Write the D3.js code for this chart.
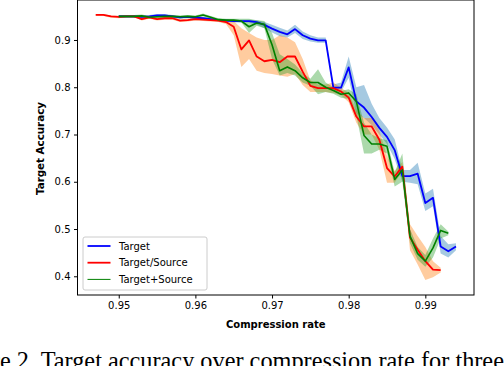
<!DOCTYPE html>
<html>
<head>
<meta charset="utf-8">
<script src="https://cdn.jsdelivr.net/npm/d3@7"></script>
<style>
  body { margin: 0; background: #fff; }
  svg { display: block; }
</style>
</head>
<body>
<div id="chart"></div>
<script>
// compression rates (x grid)
var rates = [0.947, 0.948, 0.949, 0.950, 0.951, 0.952, 0.953, 0.954, 0.955, 0.956,
             0.957, 0.958, 0.959, 0.960, 0.961, 0.962, 0.963, 0.964, 0.965, 0.966,
             0.967, 0.968, 0.969, 0.970, 0.971, 0.972, 0.973, 0.974, 0.975, 0.976,
             0.977, 0.978, 0.979, 0.980, 0.981, 0.982, 0.983, 0.984, 0.985, 0.986,
             0.987, 0.988, 0.989, 0.990, 0.991, 0.992, 0.993, 0.994];

// Target (blue)
var targetMean = [null, null, null, 0.950, 0.950, 0.950, 0.949, 0.950, 0.952, 0.952,
                  0.950, 0.948, 0.949, 0.947, 0.946, 0.944, 0.942, 0.941, 0.940, 0.940,
                  0.940, 0.938, 0.932, 0.924, 0.917, 0.912, 0.923, 0.910, 0.903, 0.899,
                  0.899, 0.799, 0.799, 0.842, 0.770, 0.757, 0.737, 0.714, 0.695, 0.667,
                  0.612, 0.612, 0.617, 0.555, 0.566, 0.463, 0.453, 0.463];
var targetLo =   [null, null, null, 0.947, 0.947, 0.947, 0.946, 0.947, 0.949, 0.949,
                  0.947, 0.945, 0.946, 0.944, 0.943, 0.941, 0.939, 0.938, 0.937, 0.937,
                  0.937, 0.932, 0.925, 0.916, 0.908, 0.905, 0.915, 0.902, 0.897, 0.894,
                  0.894, 0.792, 0.790, 0.820, 0.745, 0.735, 0.720, 0.700, 0.680, 0.648,
                  0.600, 0.598, 0.595, 0.538, 0.548, 0.448, 0.440, 0.455];
var targetHi =   [null, null, null, 0.953, 0.953, 0.953, 0.952, 0.953, 0.955, 0.955,
                  0.953, 0.951, 0.952, 0.950, 0.949, 0.947, 0.945, 0.944, 0.943, 0.943,
                  0.943, 0.942, 0.938, 0.932, 0.926, 0.920, 0.932, 0.918, 0.910, 0.905,
                  0.905, 0.806, 0.810, 0.865, 0.800, 0.805, 0.765, 0.735, 0.715, 0.690,
                  0.625, 0.625, 0.640, 0.575, 0.585, 0.485, 0.468, 0.470];

// Target/Source (red)
var divMean = [0.953, 0.953, 0.950, 0.949, 0.950, 0.950, 0.944, 0.948, 0.944, 0.946,
               0.946, 0.941, 0.942, 0.944, 0.943, 0.942, 0.941, 0.938, 0.928, 0.880,
               0.899, 0.865, 0.855, 0.858, 0.853, 0.865, 0.865, 0.833, 0.803, 0.798,
               0.798, 0.798, 0.791, 0.778, 0.738, 0.717, 0.717, 0.689, 0.629, 0.611,
               0.632, 0.482, 0.456, 0.432, 0.414, 0.413, null, null];
var divLo =   [0.951, 0.951, 0.947, 0.946, 0.948, 0.948, 0.941, 0.945, 0.941, 0.943,
               0.943, 0.938, 0.939, 0.941, 0.940, 0.939, 0.938, 0.934, 0.910, 0.843,
               0.860, 0.835, 0.830, 0.828, 0.825, 0.822, 0.828, 0.805, 0.790, 0.790,
               0.790, 0.788, 0.783, 0.768, 0.725, 0.700, 0.700, 0.668, 0.598, 0.598,
               0.622, 0.455, 0.425, 0.392, 0.398, 0.408, null, null];
var divHi =   [0.955, 0.955, 0.952, 0.951, 0.952, 0.952, 0.947, 0.951, 0.947, 0.949,
               0.949, 0.944, 0.945, 0.947, 0.946, 0.945, 0.944, 0.942, 0.940, 0.925,
               0.915, 0.905, 0.900, 0.900, 0.910, 0.905, 0.895, 0.860, 0.815, 0.806,
               0.806, 0.810, 0.799, 0.788, 0.752, 0.735, 0.735, 0.708, 0.655, 0.622,
               0.642, 0.510, 0.485, 0.462, 0.432, 0.418, null, null];

// Target+Source (green)
var sumMean = [null, null, null, 0.950, 0.950, 0.950, 0.951, 0.948, 0.949, 0.950,
               0.950, 0.949, 0.950, 0.949, 0.953, 0.948, 0.943, 0.942, 0.942, 0.940,
               0.928, 0.936, 0.933, 0.890, 0.835, 0.843, 0.835, 0.820, 0.810, 0.810,
               0.800, 0.793, 0.785, 0.788, 0.770, 0.698, 0.680, 0.680, 0.675, 0.605,
               0.625, 0.485, 0.448, 0.432, 0.460, 0.497, 0.491, null];
var sumLo =   [null, null, null, 0.947, 0.947, 0.947, 0.948, 0.945, 0.946, 0.947,
               0.947, 0.946, 0.947, 0.946, 0.950, 0.945, 0.940, 0.939, 0.939, 0.937,
               0.915, 0.930, 0.925, 0.860, 0.825, 0.830, 0.825, 0.810, 0.803, 0.785,
               0.790, 0.786, 0.778, 0.775, 0.740, 0.660, 0.660, 0.668, 0.660, 0.590,
               0.600, 0.470, 0.435, 0.420, 0.440, 0.480, 0.487, null];
var sumHi =   [null, null, null, 0.953, 0.953, 0.953, 0.954, 0.951, 0.952, 0.953,
               0.953, 0.952, 0.953, 0.952, 0.956, 0.951, 0.946, 0.945, 0.945, 0.945,
               0.945, 0.942, 0.940, 0.915, 0.870, 0.860, 0.848, 0.830, 0.818, 0.838,
               0.810, 0.800, 0.792, 0.796, 0.785, 0.725, 0.700, 0.692, 0.688, 0.620,
               0.660, 0.500, 0.462, 0.445, 0.480, 0.510, 0.495, null];

var xTicks = [0.95, 0.96, 0.97, 0.98, 0.99];
var yTicks = [0.4, 0.5, 0.6, 0.7, 0.8, 0.9];

var seriesNames = ["Target", "Target/Source", "Target+Source"];

var svgWidth = 504;
var svgHeight = 366;

var plot = { left: 77.5, right: 474, top: 0, bottom: 295 };

var svg = d3.select("#chart")
  .append("svg")
  .attr("width", svgWidth)
  .attr("height", svgHeight);

var x = d3.scaleLinear()
  .domain([0.94462, 0.99635])
  .range([plot.left, plot.right]);

var y = d3.scaleLinear()
  .domain([0.3604, 0.9846])
  .range([plot.bottom, plot.top]);

var series = [
  { name: seriesNames[0], mean: targetMean, lo: targetLo, hi: targetHi, line: "#0000ff", fill: "#1f77b4", width: 1.8 },
  { name: seriesNames[1], mean: divMean, lo: divLo, hi: divHi, line: "#ff0000", fill: "#ff7f0e", width: 1.8 },
  { name: seriesNames[2], mean: sumMean, lo: sumLo, hi: sumHi, line: "#008000", fill: "#2ca02c", width: 1.6 }
];

var font = "DejaVu Sans, sans-serif";

// bands first
series.forEach(function(s) {
  var area = d3.area()
    .defined(function(d, i) { return s.lo[i] != null; })
    .x(function(d, i) { return x(rates[i]); })
    .y0(function(d, i) { return y(s.lo[i]); })
    .y1(function(d, i) { return y(s.hi[i]); });

  svg.append("path")
    .attr("d", area(rates))
    .attr("fill", s.fill)
    .attr("fill-opacity", 0.4)
    .attr("stroke", "none");
});

// mean lines
series.forEach(function(s) {
  var line = d3.line()
    .defined(function(d, i) { return s.mean[i] != null; })
    .x(function(d, i) { return x(rates[i]); })
    .y(function(d, i) { return y(s.mean[i]); });

  svg.append("path")
    .attr("d", line(rates))
    .attr("fill", "none")
    .attr("stroke", s.line)
    .attr("stroke-width", s.width)
    .attr("stroke-linejoin", "round");
});

// frame
svg.append("rect")
  .attr("x", plot.left)
  .attr("y", plot.top)
  .attr("width", plot.right - plot.left)
  .attr("height", plot.bottom - plot.top)
  .attr("fill", "none")
  .attr("stroke", "#000")
  .attr("stroke-width", 1);

// axes
var xAxis = svg.append("g")
  .attr("transform", `translate(0, ${plot.bottom})`)
  .call(d3.axisBottom(x).tickValues(xTicks).tickSize(3.5).tickPadding(3.5).tickFormat(d3.format(".2f")));

var yAxis = svg.append("g")
  .attr("transform", `translate(${plot.left}, 0)`)
  .call(d3.axisLeft(y).tickValues(yTicks).tickSize(3.5).tickPadding(3.5).tickFormat(d3.format(".1f")));

[xAxis, yAxis].forEach(function(a) {
  a.select(".domain").remove();
  a.selectAll("text").attr("font-family", font).attr("font-size", 10).attr("fill", "#000");
  a.selectAll("line").attr("stroke", "#000");
});

// axis labels
svg.append("text")
  .attr("x", (plot.left + plot.right) / 2)
  .attr("y", 328)
  .attr("text-anchor", "middle")
  .attr("font-family", font)
  .attr("font-size", 10)
  .attr("font-weight", "bold")
  .text("Compression rate");

svg.append("text")
  .attr("transform", `translate(43.5, ${(plot.top + plot.bottom) / 2 + 1}) rotate(-90)`)
  .attr("text-anchor", "middle")
  .attr("font-family", font)
  .attr("font-size", 10.3)
  .attr("font-weight", "bold")
  .text("Target Accuracy");

// legend
var legend = svg.append("g").attr("transform", "translate(83, 237)");

legend.append("rect")
  .attr("width", 124)
  .attr("height", 53)
  .attr("rx", 2)
  .attr("fill", "#fff")
  .attr("fill-opacity", 0.8)
  .attr("stroke", "#cccccc");

series.forEach(function(s, i) {
  var ly = 9 + i * 16.7;
  legend.append("line")
    .attr("x1", 4.5).attr("x2", 27.5)
    .attr("y1", ly).attr("y2", ly)
    .attr("stroke", s.line)
    .attr("stroke-width", i == 2 ? 1 : 1.8);
  legend.append("text")
    .attr("x", 36)
    .attr("y", ly)
    .attr("dy", "0.35em")
    .attr("font-family", font)
    .attr("font-size", 10)
    .text(s.name);
});

// caption, cut at the page edges like the source scan
var capFont = "Liberation Serif, Times New Roman, serif";
var capSize = 24.3;
var caption = svg.append("text")
  .attr("y", 369)
  .attr("font-family", capFont)
  .attr("font-size", capSize)
  .attr("fill", "#000")
  .text("Figure 2. Target accuracy over compression rate for three");

var cut = svg.append("text")
  .attr("font-family", capFont)
  .attr("font-size", capSize)
  .text("Figure 2. ");
var cutWidth = cut.node().getComputedTextLength();
cut.remove();
caption.attr("x", 35 - cutWidth);
</script>
</body>
</html>
